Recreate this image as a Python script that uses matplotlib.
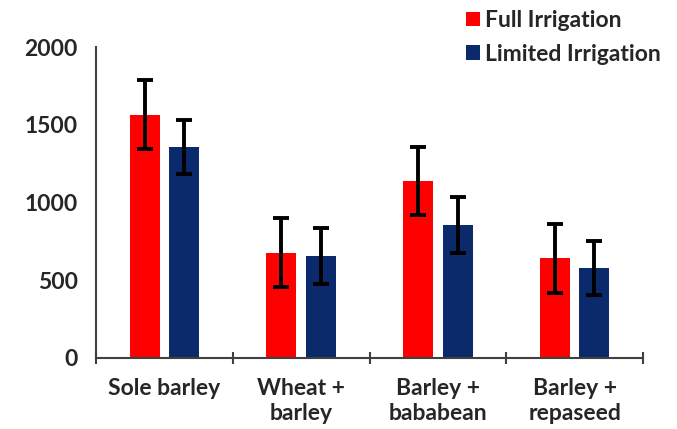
import numpy as np
import matplotlib
matplotlib.use("Agg")
import matplotlib.pyplot as plt

plt.rcParams['font.family'] = ['Lato', 'DejaVu Sans']

categories = ["Sole barley", "Wheat +\nbarley", "Barley +\nbababean", "Barley +\nrepaseed"]
full_irr = [1565, 678, 1140, 642]
full_err = [220, 220, 218, 222]
limited_irr = [1358, 656, 855, 580]
limited_err = [172, 178, 178, 175]

red = "#ff0000"
navy = "#0b2a6b"
txt = "#262626"
fs = 16.5

fig = plt.figure(figsize=(6.77, 4.29), dpi=100)
ax = fig.add_axes([96/677, 71/429, 547/677, 311/429])

x = np.arange(len(categories))
w = 0.22
ax.bar(x - 0.145, full_irr, w, color=red, label="Full Irrigation",
       yerr=full_err, error_kw=dict(ecolor="black", elinewidth=2.8, capsize=6, capthick=2.8))
ax.bar(x + 0.145, limited_irr, w, color=navy, label="Limited Irrigation",
       yerr=limited_err, error_kw=dict(ecolor="black", elinewidth=2.8, capsize=6, capthick=2.8))

ax.set_xlim(-0.5, len(categories) - 0.5)
ax.set_ylim(0, 2000)
ax.set_yticks([0, 500, 1000, 1500, 2000])
ax.tick_params(axis="y", length=0, pad=13, labelsize=fs, labelcolor=txt)
for lab in ax.get_yticklabels():
    lab.set_fontweight("bold")

ax.set_xticks(np.arange(len(categories) + 1) - 0.5)
ax.set_xticklabels([])
ax.tick_params(axis="x", direction="inout", length=9, width=1.5, color="#404040")
for i, c in enumerate(categories):
    ax.text(i, -130, c, ha="center", va="top", fontsize=fs, fontweight="bold",
            color=txt, linespacing=1.2)

for s in ["top", "right"]:
    ax.spines[s].set_visible(False)
for s in ["left", "bottom"]:
    ax.spines[s].set_color("#404040")
    ax.spines[s].set_linewidth(1.5)

leg = ax.legend(loc="upper left", bbox_to_anchor=(466/677, 1 - 10/429), bbox_transform=fig.transFigure,
                frameon=False, handlelength=0.6, handleheight=0.6, handletextpad=0.25,
                labelspacing=0.55, borderpad=0, borderaxespad=0, fontsize=fs)
for t in leg.get_texts():
    t.set_fontweight("bold")
    t.set_color(txt)

fig.savefig("out.png", dpi=100)
